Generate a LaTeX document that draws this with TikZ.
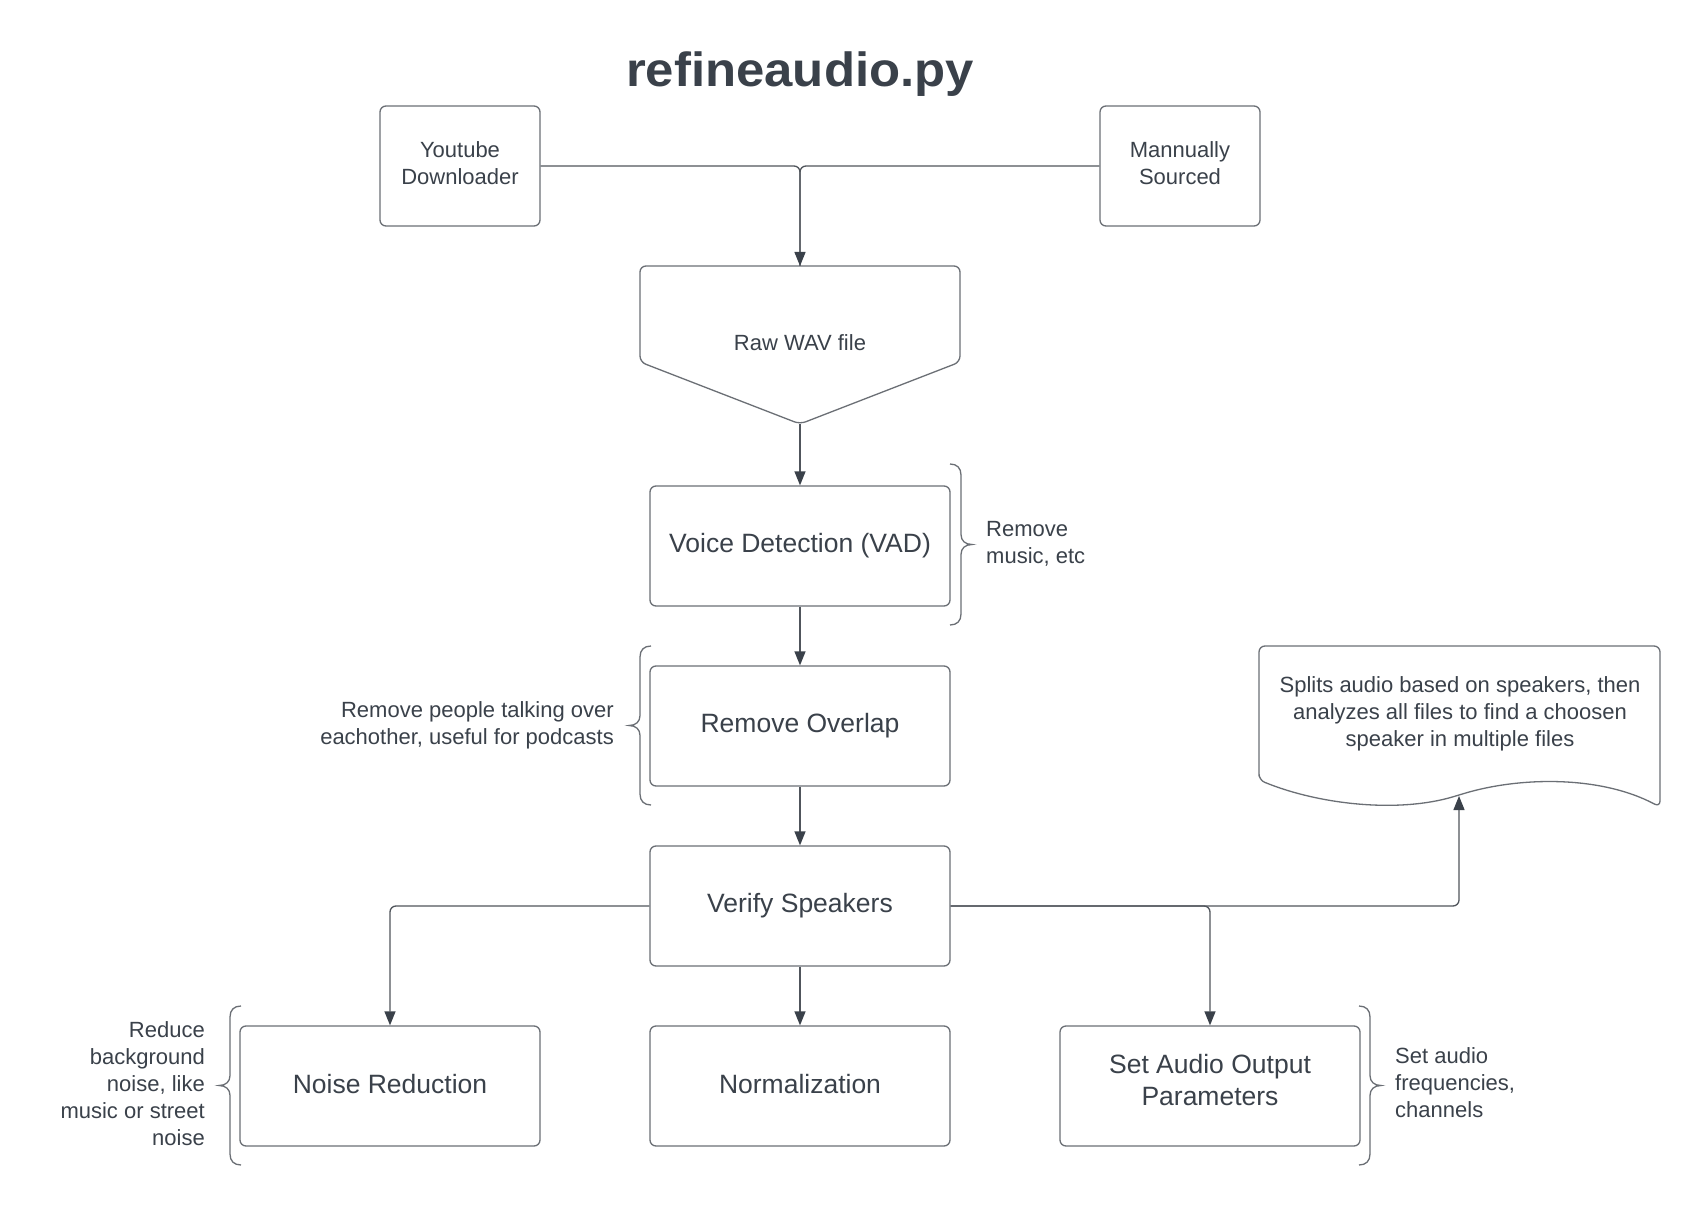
\documentclass[tikz,border=0pt]{standalone}
\usepackage{fontspec}
\setmainfont{Liberation Sans}
\newfontfamily\titlefont[FakeStretch=1.06]{Liberation Sans}
\usetikzlibrary{arrows.meta}
\definecolor{txt}{HTML}{3A414A}
\definecolor{edgec}{HTML}{6B6F75}
\definecolor{connc}{HTML}{50555C}
\newcommand\mybrace[4]{%
  \pgfmathsetmacro\bm{(#3+#4)/2}%
  \draw[bracestyle] (#1-11*#2,#3) .. controls (#1-4*#2,#3) and (#1,#3+4) .. (#1,#3+11)
    -- (#1,\bm-10) .. controls (#1,\bm-4) and (#1+4*#2,\bm) .. (#1+11*#2,\bm)
    .. controls (#1+4*#2,\bm) and (#1,\bm+4) .. (#1,\bm+10)
    -- (#1,#4-11) .. controls (#1,#4-4) and (#1-4*#2,#4) .. (#1-11*#2,#4);%
}
\begin{document}
\begin{tikzpicture}[x=1pt,y=-1pt,
  box/.style={draw=edgec, line width=1.3pt, rounded corners=6pt, minimum width=300pt,
    minimum height=120pt, text=txt, font=\fontsize{26.5}{32}\selectfont, align=center, inner sep=0pt},
  smallbox/.style={box, minimum width=160pt, font=\fontsize{22}{27}\selectfont},
  boxtext/.style={text=txt, font=\fontsize{26.5}{32}\selectfont, align=center, inner sep=0pt},
  note/.style={text=txt, font=\fontsize{22}{27}\selectfont, inner sep=0pt},
  link/.style={draw=connc, line width=1.3pt, rounded corners=6pt},
  arr/.style={link, -{Triangle[length=14pt,width=11pt,color=txt]}},
  bracestyle/.style={draw=edgec, line width=1.3pt},
  shapeline/.style={draw=edgec, line width=1.3pt, rounded corners=6pt},
]
\fill[white] (0,0) rectangle (1700,1206);
\useasboundingbox (0,0) rectangle (1700,1206);

% title
\node[anchor=base, text=txt, inner sep=0pt, font=\titlefont\bfseries\fontsize{48}{56}\selectfont] (title) at (800,87) {refineaudio.py};

% sources
\node[smallbox] (yt) at (460,166) {};
\node[note, align=center] (yttext) at (460,163) {Youtube\\Downloader};
\node[smallbox] (ms) at (1180,166) {};
\node[note, align=center] (mstext) at (1180,163) {Mannually\\Sourced};

% raw wav shape
\draw[shapeline] (640,266) -- (960,266) -- (960,362) -- (800,424) -- (640,362) -- cycle;
\node[note] (raw) at (800,343) {Raw WAV file};
\coordinate (rawtop) at (800,266);
\coordinate (rawtip) at (800,424);

% main chain
\node[box] (vad) at (800,546) {Voice Detection (VAD)};
\node[box] (ro) at (800,726) {Remove Overlap};
\node[box] (vs) at (800,906) {Verify Speakers};
\node[box] (nr) at (390,1086) {};
\node[boxtext] (nrtext) at (390,1084) {Noise Reduction};
\node[box] (nm) at (800,1086) {};
\node[boxtext] (nmtext) at (800,1084) {Normalization};
\node[box] (sa) at (1210,1086) {};
\node[boxtext] (satext) at (1210,1080) {Set Audio Output\\Parameters};

% document shape
\draw[shapeline] (1259,780) -- (1259,646) -- (1660,646) -- (1660,807)
  .. controls (1600,775) and (1519,777) .. (1459,795)
  .. controls (1399,813) and (1320,805) .. (1259,780) -- cycle;
\node[note, align=center] (doc) at (1460,714) {Splits audio based on speakers, then\\analyzes all files to find a choosen\\speaker in multiple files};
\coordinate (docin) at (1459,796);

% notes
\node[note, anchor=west, align=left] (n1) at (986,544) {Remove\\music, etc};
\node[note, anchor=east, align=right] (n2) at (614,725) {Remove people talking over\\eachother, useful for podcasts};
\node[note, anchor=east, align=right] (n3) at (205,1084) {Reduce\\background\\noise, like\\music or street\\noise};
\node[note, anchor=west, align=left] (n4) at (1395,1083) {Set audio\\frequencies,\\channels};

% braces
\mybrace{961}{1}{464}{625}
\mybrace{640}{-1}{646}{805}
\mybrace{230}{-1}{1006}{1165}
\mybrace{1370}{1}{1006}{1165}

% connectors
\draw[link] (yt.east) -| (rawtop);
\draw[arr] (ms.west) -| (rawtop);
\draw[arr] (rawtip) -- (vad.north);
\draw[arr] (vad.south) -- (ro.north);
\draw[arr] (ro.south) -- (vs.north);
\draw[arr] (vs.west) -| (nr.north);
\draw[arr] (vs.south) -- (nm.north);
\draw[arr] (vs.east) -| (sa.north);
\draw[arr] (vs.east) -| (docin);
\end{tikzpicture}
\end{document}
